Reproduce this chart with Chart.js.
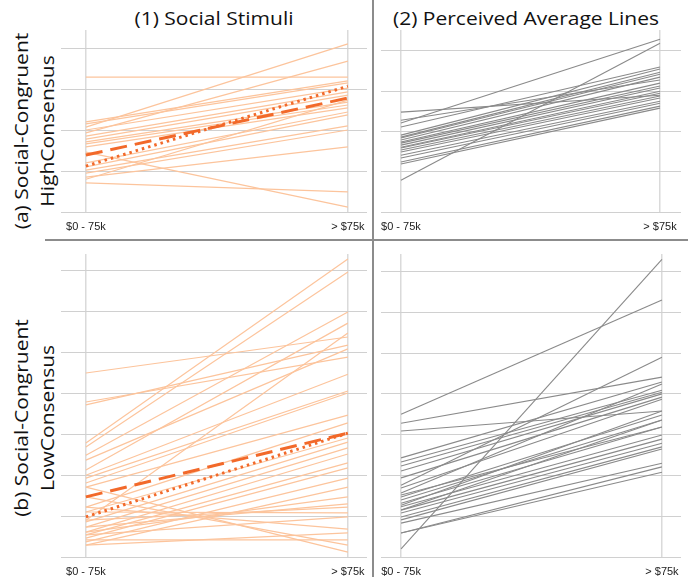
<!DOCTYPE html>
<html>
<head>
<meta charset="utf-8">
<script src="https://cdn.jsdelivr.net/npm/chart.js@4"></script>
<style>
  html, body { margin:0; padding:0; background:#fff; }
  body { width:688px; height:577px; overflow:hidden; position:relative; font-family:'Open Sans', sans-serif; }
  .title { position:absolute; font-size:21px; line-height:24px; color:#111; text-align:center; white-space:nowrap; transform:scaleY(0.86); }
  .rowlab { position:absolute; width:230px; height:60px; font-size:21px; line-height:30px; color:#111; text-align:center; transform:rotate(-90deg) scaleY(0.85); white-space:nowrap; }
  .div { position:absolute; background:#8c8c8c; }
  canvas { position:absolute; }
</style>
</head>
<body>
<div class="title" style="left:64px; top:6px; width:300px;">(1) Social Stimuli</div>
<div class="title" style="left:376px; top:6px; width:300px;">(2) Perceived Average Lines</div>
<div class="rowlab" style="left:-81px; top:101px;">(a) Social-Congruent<br>HighConsensus</div>
<div class="rowlab" style="left:-81px; top:388px;">(b) Social-Congruent<br>LowConsensus</div>
<div class="div" style="left:372px; top:0; width:2px; height:577px;"></div>
<div class="div" style="left:45px; top:239px; width:643px; height:2px;"></div>

<canvas id="a1"></canvas>
<canvas id="a2"></canvas>
<canvas id="b1"></canvas>
<canvas id="b2"></canvas>

<script>
// ---- data ----
const xLabels = ['$0 - 75k', '> $75k'];

// (a)(1) social stimuli, high consensus: [left, right]
const stimHigh = [
  [3.29,3.29],[2.07,4.10],[1.93,3.68],[2.20,3.20],[2.15,3.15],[2.00,3.02],
  [1.85,2.93],[1.78,2.85],[1.71,2.68],[1.66,2.61],[1.59,2.54],[1.46,0.12],
  [1.20,2.44],[1.10,2.37],[1.02,2.10],[0.95,2.00],[0.85,1.59],[0.80,2.73],
  [0.71,0.49]
];
const stimHighMean = [1.39, 2.78];
const stimHighTrend = [1.12, 3.07];

// (a)(2) perceived average lines, high consensus
const percHigh = [
  [0.79,4.19],[2.21,4.29],[2.48,2.90],[2.28,3.28],[2.11,3.60],[1.91,3.55],
  [1.86,3.47],[1.84,3.42],[1.79,3.35],[1.74,3.20],[1.71,3.13],[1.66,3.08],
  [1.61,3.00],[1.59,2.95],[1.54,2.88],[1.49,2.83],[1.41,2.75],[1.34,2.70],
  [1.24,2.63],[1.19,2.58]
];

// (b)(1) social stimuli, low consensus
const stimLow = [
  [4.50,5.38],[3.79,4.89],[3.72,5.18],[2.79,7.29],[2.69,6.97],[2.49,5.99],
  [2.37,5.09],[2.13,5.72],[2.00,4.47],[1.93,4.06],[1.81,4.01],[1.71,3.47],
  [1.22,3.28],[1.10,2.91],[0.90,5.48],[0.86,2.81],[0.73,2.67],[0.61,2.52],
  [0.54,2.30],[0.46,2.18],[0.37,1.93],[0.29,1.71],[0.61,1.47],[0.73,1.30],
  [0.90,1.22],[1.10,1.08],[1.22,0.68],[1.47,0.29],[1.71,0.12],[0.29,0.59],
  [0.42,0.42],[0.54,0.98]
];
const stimLowMean = [1.47, 3.03];
const stimLowTrend = [0.98, 3.03];

// (b)(2) perceived average lines, low consensus
const percLow = [
  [3.50,6.30],[3.28,4.41],[3.09,3.58],[1.76,4.90],[2.43,4.29],[2.33,4.09],
  [2.23,4.04],[2.11,4.00],[1.94,3.92],[1.69,3.87],[1.57,4.24],[1.47,3.48],
  [1.40,3.36],[1.32,3.19],[1.23,2.99],[1.15,2.89],[1.08,2.79],[0.98,2.70],
  [0.91,2.65],[0.83,2.30],[0.59,2.21],[0.59,2.08],[0.20,7.30],[1.27,3.58],
  [1.52,3.19],[1.15,3.36]
];

// ---- drawing ----
const toPts = arr => arr.map((v, i) => ({x: i, y: v}));

function makePanel(id, cfg) {
  const cv = document.getElementById(id);
  const axisH = 22;
  cv.width = cfg.w; cv.height = cfg.h + axisH;
  cv.style.left = cfg.left + 'px'; cv.style.top = cfg.top + 'px';
  cv.style.width = cfg.w + 'px'; cv.style.height = (cfg.h + axisH) + 'px';
  const datasets = [];
  if (cfg.mean) {
    datasets.push({data: toPts(cfg.trend), borderColor:'#f2692a', borderWidth:3, borderDash:[2.5,4], borderCapStyle:'butt'});
    datasets.push({data: toPts(cfg.mean), borderColor:'#f2692a', borderWidth:3, borderDash:[17,8]});
  }
  cfg.lines.forEach(l => datasets.push({data: toPts(l), borderColor: cfg.color, borderWidth: cfg.lw}));
  new Chart(cv, {
    type: 'line',
    data: { datasets },
    options: {
      responsive:false, animation:false, devicePixelRatio: window.devicePixelRatio || 1,
      layout:{padding:0},
      elements:{ point:{radius:0}, line:{tension:0, fill:false} },
      plugins:{ legend:{display:false}, tooltip:{enabled:false}, title:{display:false} },
      scales:{
        x:{
          type:'linear', min:cfg.xmin, max:cfg.xmax,
          afterBuildTicks: s => { s.ticks = [{value:0},{value:1}]; },
          afterFit: s => { s.height = axisH; s.paddingLeft = 0; s.paddingRight = 0; },
          ticks:{ callback: v => xLabels[v], padding:8, maxRotation:0, autoSkip:false,
                  font:{family:'Liberation Sans', size:11}, color:'#222' },
          grid:{ color:'#dadada', lineWidth:1.5, drawTicks:false },
          border:{display:false}
        },
        y:{
          type:'linear', min:0, max:cfg.ymax,
          ticks:{ display:false, stepSize:1 },
          afterBuildTicks: s => { s.ticks = s.ticks.filter(t => Math.abs(t.value - Math.round(t.value)) < 1e-6); },
          afterFit: s => { s.width = 0; },
          grid:{ color:'#d0d0d0', lineWidth:1, drawTicks:false },
          border:{display:false}
        }
      }
    }
  });
}

const orange = '#fcc49c';
const gray = '#8a8a8a';
makePanel('a1', {lines:stimHigh, mean:stimHighMean, trend:stimHighTrend, color:orange, lw:1.2,
  left:61, top:30, w:306, h:182, xmin:-0.095, xmax:1.073, ymax:4.44});
makePanel('a2', {lines:percHigh, color:gray, lw:1.1,
  left:381, top:30, w:300, h:182, xmin:-0.077, xmax:1.081, ymax:4.52});
makePanel('b1', {lines:stimLow, mean:stimLowMean, trend:stimLowTrend, color:orange, lw:1.2,
  left:61, top:254, w:306, h:303, xmin:-0.095, xmax:1.073, ymax:7.41});
makePanel('b2', {lines:percLow, color:gray, lw:1.1,
  left:381, top:254, w:300, h:303, xmin:-0.077, xmax:1.073, ymax:7.43});
</script>
</body>
</html>
